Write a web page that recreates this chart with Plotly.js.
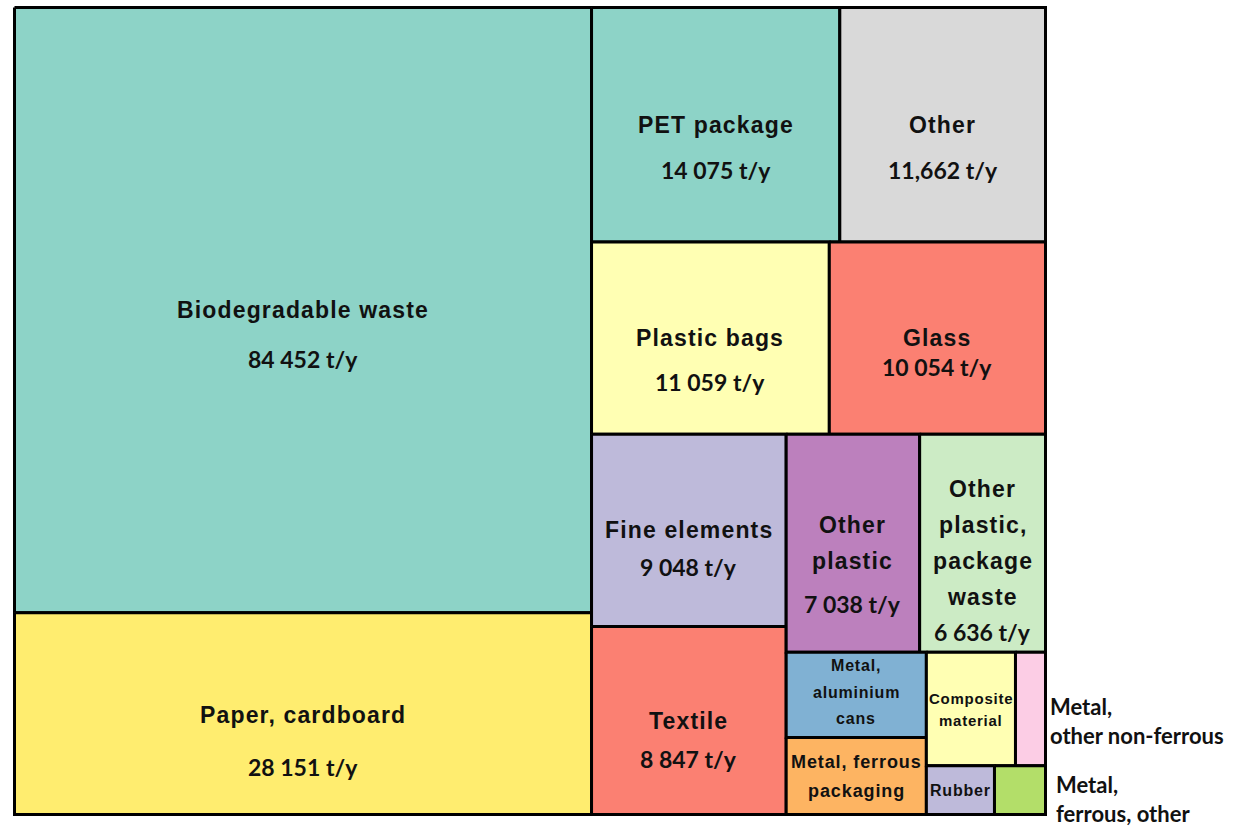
<!DOCTYPE html>
<html><head><meta charset="utf-8">
<script src="https://cdn.plot.ly/plotly-3.0.1.min.js"></script>
<style>
html,body{margin:0;padding:0;background:#fff;}
text.annotation-text[style*="Liberation"]{letter-spacing:0.05em;}
</style>
</head><body><div id="chart" style="width:1246px;height:826px;"></div>
<script>
// ---------- data ----------
const categories = [
  "Biodegradable waste", "Paper, cardboard", "PET package", "Other",
  "Plastic bags", "Glass", "Fine elements", "Textile",
  "Other plastic", "Other plastic, package waste",
  "Metal, aluminium cans", "Metal, ferrous packaging",
  "Composite material", "Metal, other non-ferrous",
  "Rubber", "Metal, ferrous, other"
];
const values = [84452, 28151, 14075, 11662, 11059, 10054, 9048, 8847,
                7038, 6636, 2885, 2611, 2446, 824, 801, 600];
const valueText = ["84 452 t/y", "28 151 t/y", "14 075 t/y", "11,662 t/y",
                   "11 059 t/y", "10 054 t/y", "9 048 t/y", "8 847 t/y",
                   "7 038 t/y", "6 636 t/y", "", "", "", "", "", ""];
const labelLines = [
  ["Biodegradable waste"], ["Paper, cardboard"], ["PET package"], ["Other"],
  ["Plastic bags"], ["Glass"], ["Fine elements"], ["Textile"],
  ["Other", "plastic"], ["Other", "plastic,", "package", "waste"],
  ["Metal,", "aluminium", "cans"], ["Metal, ferrous", "packaging"],
  ["Composite", "material"], ["Metal,", "other non-ferrous"],
  ["Rubber"], ["Metal,", "ferrous, other"]
];
const colors = ["#8dd3c7", "#ffed6f", "#8dd3c7", "#d9d9d9",
                "#ffffb3", "#fb8072", "#bebada", "#fb8072",
                "#bc80bd", "#ccebc5", "#80b1d3", "#fdb462",
                "#ffffb3", "#fccde5", "#bebada", "#b3de69"];

// ---------- label styling (offsets in px from cell centre) ----------
const NAME_FONT = "Liberation Sans, Arial, sans-serif";
const VAL_FONT = "Lato, Open Sans, sans-serif";
const labelStyle = [
  {size:23, first:0,   step:0,  valOff:49},
  {size:23, first:1,   step:0,  valOff:53},
  {size:23, first:0,   step:0,  valOff:45},
  {size:23, first:0,   step:0,  valOff:45},
  {size:23, first:0,   step:0,  valOff:44},
  {size:23, first:0,   step:0,  valOff:29},
  {size:23, first:0,   step:0,  valOff:37},
  {size:23, first:0,   step:0,  valOff:38},
  {size:23, first:-18, step:36, valOff:61},
  {size:23, first:-54, step:36, valOff:89},
  {size:16, first:-29, step:26.5},
  {size:18, first:-14, step:29},
  {size:15, first:-11, step:22},
  {size:22, first:-3,  step:29, outside:true, dx:2},
  {size:16, first:0,   step:0},
  {size:22, first:-6,  step:29, outside:true, dx:8}
];

// ---------- layout (pair-strip treemap) ----------
const PW = 1031, PH = 807;
function layoutPairs(vals, W, H) {
  const rects = new Array(vals.length);
  let x = 0, y = 0, w = W, h = H;
  let remaining = vals.reduce((a, b) => a + b, 0);
  for (let i = 0; i < vals.length; i += 2) {
    const idx = [i]; if (i + 1 < vals.length) idx.push(i + 1);
    const s = idx.reduce((a, k) => a + vals[k], 0);
    let sx, sy, sw, sh;
    if (i + 2 >= vals.length) { sx = x; sy = y; sw = w; sh = h; }
    else if (w >= h) { sw = w * s / remaining; sx = x; sy = y; sh = h; x += sw; w -= sw; }
    else { sh = h * s / remaining; sx = x; sy = y; sw = w; y += sh; h -= sh; }
    remaining -= s;
    let off = 0;
    idx.forEach(k => {
      const f = vals[k] / s;
      if (sw >= sh) { rects[k] = {x0: sx + off, x1: sx + off + sw * f, y0: sy, y1: sy + sh}; off += sw * f; }
      else { rects[k] = {x0: sx, x1: sx + sw, y0: sy + off, y1: sy + off + sh * f}; off += sh * f; }
    });
  }
  return rects;
}
const rects = layoutPairs(values, PW, PH);

const traces = rects.map((r, k) => ({
  type: "scatter", mode: "lines",
  x: [r.x0, r.x1, r.x1, r.x0, r.x0],
  y: [r.y0, r.y0, r.y1, r.y1, r.y0],
  fill: "toself", fillcolor: colors[k],
  line: {color: "#000", width: 3},
  name: categories[k],
  text: categories[k] + ": " + values[k],
  hoverinfo: "text", showlegend: false
}));

const annotations = [];
rects.forEach((r, k) => {
  const st = labelStyle[k];
  const cx = (r.x0 + r.x1) / 2, cy = (r.y0 + r.y1) / 2;
  labelLines[k].forEach((ln, i) => {
    const a = {
      text: "<b>" + ln + "</b>", showarrow: false, xref: "x", yref: "y",
      y: cy, yshift: -(st.first + i * st.step), yanchor: "middle",
      font: {family: st.outside ? VAL_FONT : NAME_FONT, size: st.size, color: "#111"}
    };
    if (st.outside) { a.x = r.x1; a.xanchor = "left"; a.xshift = st.dx; }
    else { a.x = cx; a.xanchor = "center"; }
    annotations.push(a);
  });
  if (valueText[k]) {
    annotations.push({
      text: "<b>" + valueText[k] + "</b>", showarrow: false, xref: "x", yref: "y",
      x: cx, y: cy, yshift: -st.valOff, xanchor: "center", yanchor: "middle",
      font: {family: VAL_FONT, size: 23, color: "#111"}
    });
  }
});

const layout = {
  width: 1246, height: 826,
  margin: {l: 13, r: 199, t: 6, b: 10, pad: 0},
  paper_bgcolor: "#fff", plot_bgcolor: "#fff",
  xaxis: {range: [-1.5, PW + 1.5], visible: false, fixedrange: true},
  yaxis: {range: [PH + 1.5, -1.5], visible: false, fixedrange: true},
  annotations: annotations,
  showlegend: false
};
Plotly.newPlot("chart", traces, layout, {displayModeBar: false, staticPlot: true});
</script>
</body></html>
